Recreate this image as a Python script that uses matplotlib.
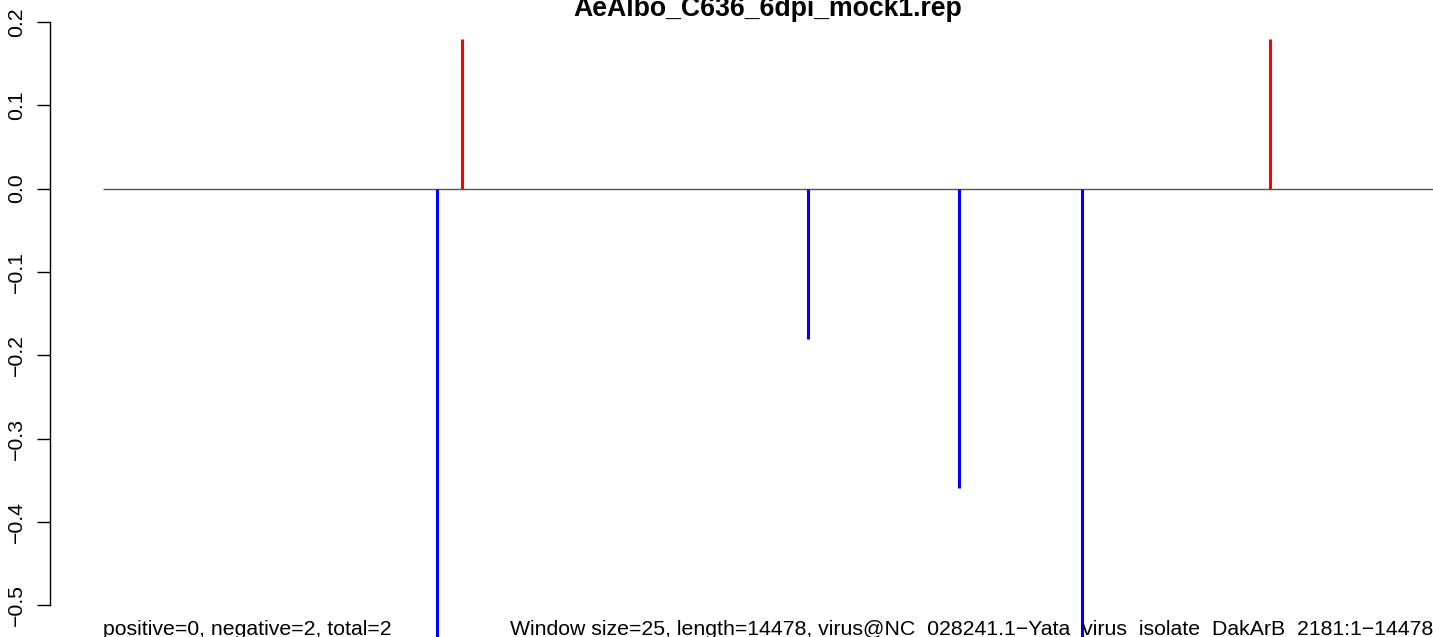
import matplotlib
matplotlib.use("Agg")
import matplotlib.pyplot as plt
import numpy as np

plt.rcParams['font.family'] = ['Liberation Sans', 'DejaVu Sans']

# posiciones en el genoma y valores de cada ventana
genome_len = 14478
pos_positions = [3908, 12704]
pos_values = [0.18, 0.18]
neg_positions = [3636, 7674, 9318, 10657]
neg_values = [-0.60, -0.18, -0.36, -0.60]
yticks = [0.2, 0.1, 0.0, -0.1, -0.2, -0.3, -0.4, -0.5]

title = "AeAlbo_C636_6dpi_mock1.rep"
left_note = "positive=0, negative=2, total=2"
right_note = ("Window size=25, length=14478, "
              "virus@NC_028241.1-Yata_virus_isolate_DakArB_2181:1-14478").replace("-", "\u2212")

W, H = 1433, 637
fig = plt.figure(figsize=(W / 100, H / 100), dpi=100)
ax = fig.add_axes([50 / W, 0, 1 - 50 / W, 1])

# escala: 0.0 en y=188.6 px, 83.3 px por 0.1
px_per_unit = 833.0
y0 = 188.6
ax.set_ylim(-(H - y0) / px_per_unit, y0 / px_per_unit)
x_per_px = genome_len / (W - 103)
ax.set_xlim(-53 * x_per_px, genome_len)

ax.hlines(0, 0, genome_len, color='#555555', lw=1.0)
ax.vlines(pos_positions, 0, pos_values, color='red', lw=2.2)
ax.vlines(neg_positions, 0, neg_values, color='blue', lw=2.2)

for s in ['top', 'right', 'bottom']:
    ax.spines[s].set_visible(False)
ax.spines['left'].set_bounds(-0.5, 0.2)
ax.spines['left'].set_linewidth(1.0)
ax.set_yticks(yticks)
ax.set_yticklabels([f"{v:.1f}".replace("-", "\u2212") for v in yticks],
                   rotation=90, va='center', fontsize=15.3)
ax.tick_params(axis='y', length=9.4, width=1.0, pad=8)
ax.set_xticks([])

fig.text((103 + W) / 2 / W, 1 - 16 / H, title, ha='center', va='baseline',
         fontsize=19.2, fontweight='bold')
fig.text(103 / W, 1 - 635 / H, left_note, ha='left', va='baseline', fontsize=15.3)
fig.text(1.0, 1 - 635 / H, right_note, ha='right', va='baseline', fontsize=15.3)

fig.savefig("out.png", dpi=100)
